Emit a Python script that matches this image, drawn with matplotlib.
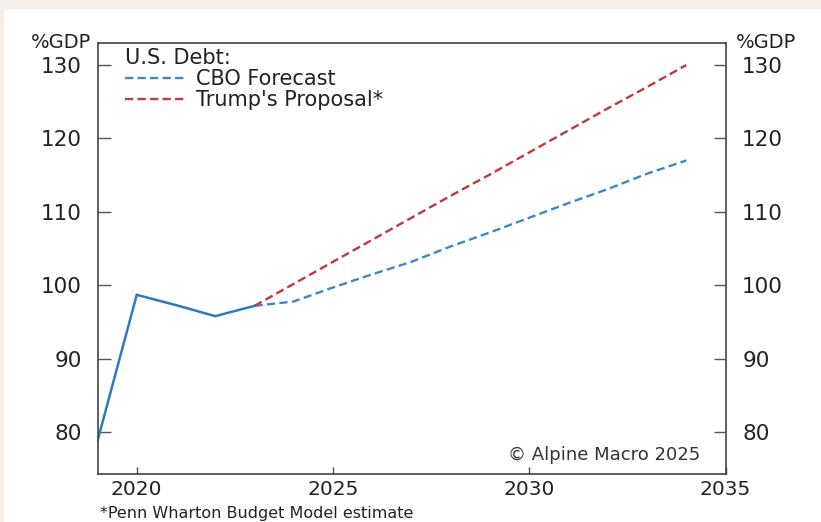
import matplotlib
matplotlib.use('Agg')
import matplotlib.pyplot as plt
from matplotlib.patches import Rectangle

# 넓은 글꼴 사용 (원본 글자가 가로로 넓음)
plt.rcParams['font.family'] = ['DejaVu Sans']

# 실제 부채 (실선)
hist_years = [2019, 2020, 2021, 2022, 2023]
hist_debt = [78.8, 98.7, 97.3, 95.8, 97.2]

# 전망 (점선)
proj_years = [2023, 2024, 2025, 2026, 2027, 2028, 2029, 2030, 2031, 2032, 2033, 2034]
cbo_debt = [97.2, 97.8, 99.7, 101.5, 103.2, 105.3, 107.2, 109.2, 111.2, 113.1, 115.2, 117.0]
trump_debt = [97.2, 100.2, 103.2, 106.2, 109.2, 112.2, 115.1, 118.1, 121.1, 124.1, 127.0, 130.0]

x_ticks = [2020, 2025, 2030, 2035]
y_ticks = [80, 90, 100, 110, 120, 130]

blue = '#2c7bc0'
blue_dash = '#3a8acb'
red = '#c0393d'
spine_c = '#333333'
txt_c = '#222222'

fig = plt.figure(figsize=(8.21, 5.22), dpi=100, facecolor='white')
# 위쪽/왼쪽 배경 띠
fig.patches.append(Rectangle((0, 1 - 8 / 522), 1, 8 / 522, transform=fig.transFigure,
                             color='#f7eee8', zorder=0))
fig.patches.append(Rectangle((0, 0), 3 / 821, 1, transform=fig.transFigure,
                             color='#f7eee8', zorder=0))

ax = fig.add_axes([97.5 / 821, 48 / 522, 628 / 821, 431 / 522])
ax.set_xlim(2019, 2035)
ax.set_ylim(74.3, 133.0)

ax.plot(hist_years, hist_debt, color=blue, lw=1.8, solid_joinstyle='miter')
ax.plot(proj_years, cbo_debt, color=blue_dash, lw=1.7, dashes=(3.5, 1.8),
        label='CBO Forecast')
ax.plot(proj_years, trump_debt, color=red, lw=1.7, dashes=(3.5, 1.8),
        label="Trump's Proposal*")

for s in ax.spines.values():
    s.set_color(spine_c)
    s.set_linewidth(1.1)

ax.set_xticks(x_ticks)
ax.set_xticklabels([str(t) for t in x_ticks])
ax.set_yticks(y_ticks)
ax.set_yticklabels([str(t) for t in y_ticks])
ax.tick_params(axis='x', direction='in', length=5, width=1, color='#555555',
               labelsize=14.5, pad=4, labelcolor=txt_c)
ax.tick_params(axis='y', direction='in', length=9, width=1, color='#555555',
               labelsize=15.5, pad=11.5, labelcolor=txt_c)

ax2 = ax.twinx()
ax2.set_ylim(ax.get_ylim())
ax2.set_yticks(y_ticks)
ax2.set_yticklabels([str(t) for t in y_ticks])
ax2.tick_params(axis='y', direction='in', length=9, width=1, color='#555555',
                labelsize=15.5, pad=12, labelcolor=txt_c)
for s in ax2.spines.values():
    s.set_visible(False)

leg = ax.legend(title='U.S. Debt:', loc='upper left', frameon=False, fontsize=15,
                title_fontsize=15, handlelength=2.9, handletextpad=0.5,
                borderaxespad=0.0, borderpad=0.25, labelspacing=0.05,
                bbox_to_anchor=(0.035, 1.0))
leg._legend_box.align = 'left'
for t in leg.get_texts():
    t.set_color(txt_c)
leg.get_title().set_color(txt_c)

ax.text(0.96, 0.045, '\u00a9 Alpine Macro 2025', transform=ax.transAxes,
        ha='right', va='center', fontsize=13, color='#333333')

fig.text(91 / 821, 1 - 43 / 522, '%GDP', ha='right', va='center', fontsize=14,
         color=txt_c)
fig.text(736 / 821, 1 - 43 / 522, '%GDP', ha='left', va='center', fontsize=14,
         color=txt_c)
# 각주 (아래 가장자리에 붙임)
fig.text(100 / 821, 1 / 522, '*Penn Wharton Budget Model estimate', ha='left',
         va='bottom', fontsize=11.5, color=txt_c)

fig.savefig('out.png', dpi=100, facecolor=fig.get_facecolor())
